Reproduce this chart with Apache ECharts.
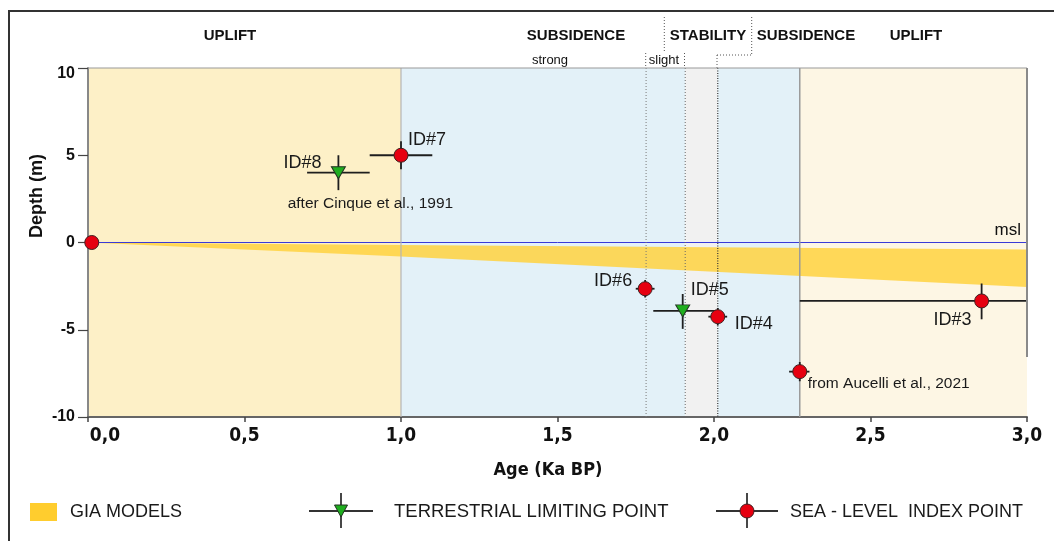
<!DOCTYPE html>
<html><head><meta charset="utf-8">
<script src="https://cdn.jsdelivr.net/npm/echarts@6/dist/echarts.min.js"></script>
<style>html,body{margin:0;padding:0;background:#fff}#c{width:1054px;height:541px}</style>
</head><body><div id="c"></div>
<script>
// ---------- DATA ----------
// Background phase bands (Age, ka BP)
const bandStart = [0.0, 1.0, 1.783, 1.908, 2.012, 2.274];
const bandEnd   = [1.0, 1.783, 1.908, 2.012, 2.274, 3.0];
// Phase boundary lines
const dividerAge = [1.0, 1.783, 1.908, 2.012, 2.274];
// GIA model band
const giaAge    = [0.0, 1.0, 3.0];
const giaTop    = [0.0, -0.15, -0.4];
const giaBottom = [0.0, -0.8, -2.55];
// Mean sea level
const mslDepth = 0;
// Sea-level index points
const slipName    = ['', 'ID#7', 'ID#6', 'ID#4', '', 'ID#3'];
const slipNote    = ['', '', '', '', 'from Aucelli et al., 2021', ''];
const slipAge     = [0.012, 1.0, 1.78, 2.012, 2.274, 2.855];
const slipDepth   = [0.0, 5.0, -2.65, -4.25, -7.4, -3.35];
const slipAgeLo   = [0.012, 0.90, 1.75, 1.982, 2.24, 2.274];
const slipAgeHi   = [0.012, 1.10, 1.81, 2.042, 2.305, 3.0];
const slipDepthLo = [0.0, 4.2, -3.15, -4.75, -7.95, -4.4];
const slipDepthHi = [0.0, 5.8, -2.15, -3.75, -6.85, -2.35];
// Terrestrial limiting points
const tlpName    = ['ID#8', 'ID#5'];
const tlpNote    = ['after Cinque et al., 1991', ''];
const tlpAge     = [0.80, 1.90];
const tlpDepth   = [4.0, -3.92];
const tlpAgeLo   = [0.70, 1.806];
const tlpAgeHi   = [0.90, 2.01];
const tlpDepthLo = [3.0, -4.95];
const tlpDepthHi = [5.0, -2.95];
// Axis ticks
const xTicks = [0, 0.5, 1.0, 1.5, 2.0, 2.5, 3.0];
const yTicks = [-10, -5, 0, 5, 10];

// ---------- STYLES ----------
const bandColors = ['#fdf0c7', '#e3f1f8', '#e3f1f8', '#f1f1f1', '#e3f1f8', '#fdf6e4'];
const dividerStyles = [
  {stroke:'#b5b5b5', lineWidth:1.2},
  {stroke:'#777', lineWidth:1, lineDash:[1,2]},
  {stroke:'#666', lineWidth:1, lineDash:[1,2]},
  {stroke:'#333', lineWidth:1.2, lineDash:[1,1.5]},
  {stroke:'#9a9a9a', lineWidth:1.5}
];
// label offsets [dx, dy, align]
const slipNameStyle = [null, [7,-15,'left'], [-13,-8,'right'], [17,7,'left'], null, [-10,19,'right']];
const slipNoteStyle = [null, null, null, null, [8,12,'left'], null];
const tlpNameStyle  = [[-17,-10,'right'], [8,-21,'left']];
const tlpNoteStyle  = [[32,31,'center'], null];

const FONT = '"Liberation Sans", Arial, sans-serif';
const NARROW = '"DejaVu Sans Condensed", "Liberation Sans", sans-serif';

// Build label list
const labels = [];
slipAge.forEach((a,i)=>{
  if (slipName[i]) labels.push({v:[a, slipDepth[i]], t:slipName[i], s:slipNameStyle[i], f:18});
  if (slipNote[i]) labels.push({v:[a, slipDepth[i]], t:slipNote[i], s:slipNoteStyle[i], f:15.5});
});
tlpAge.forEach((a,i)=>{
  if (tlpName[i]) labels.push({v:[a, tlpDepth[i]], t:tlpName[i], s:tlpNameStyle[i], f:18});
  if (tlpNote[i]) labels.push({v:[a, tlpDepth[i]], t:tlpNote[i], s:tlpNoteStyle[i], f:15.5});
});

function errRender(params, api){
  const c  = api.coord([api.value(0), api.value(1)]);
  const l  = api.coord([api.value(2), api.value(1)]);
  const r  = api.coord([api.value(3), api.value(1)]);
  const lo = api.coord([api.value(0), api.value(4)]);
  const hi = api.coord([api.value(0), api.value(5)]);
  const st = {stroke:'#1e1e1e', lineWidth:1.8};
  return {type:'group', children:[
    {type:'line', shape:{x1:l[0], y1:c[1], x2:r[0], y2:c[1]}, style:st},
    {type:'line', shape:{x1:c[0], y1:hi[1], x2:c[0], y2:lo[1]}, style:st}
  ]};
}

const chart = echarts.init(document.getElementById('c'), null, {renderer:'canvas'});
const headerText = (x, y, text, opt={}) => ({type:'text', x, y, style:Object.assign({text, fill:'#111', font:'bold 15px '+FONT, textAlign:'center', textVerticalAlign:'middle'}, opt)});
const dline = (x1,y1,x2,y2) => ({type:'line', shape:{x1,y1,x2,y2}, style:{stroke:'#555', lineWidth:1, lineDash:[1,2]}});

chart.setOption({
  animation:false,
  backgroundColor:'#fff',
  grid:{left:88, right:27, top:68, bottom:124, show:false},
  xAxis:{
    type:'value', min:0, max:3, interval:0.5,
    axisLine:{show:true, onZero:false, lineStyle:{color:'#666', width:2}},
    axisTick:{show:true, length:5, lineStyle:{color:'#444', width:1.5}},
    splitLine:{show:false},
    axisLabel:{
      margin:10, color:'#111', fontFamily:NARROW, fontWeight:'bold', fontSize:19,
      formatter:v => { const s = v.toFixed(1).replace('.', ','); return v === 0 ? '{f|'+s+'}' : s; },
      rich:{f:{padding:[0,0,0,34], fontFamily:NARROW, fontWeight:'bold', fontSize:19, color:'#111'}}
    }
  },
  yAxis:{
    type:'value', min:-10, max:10, interval:5,
    axisLine:{show:true, onZero:false, lineStyle:{color:'#888', width:2}},
    axisTick:{show:true, length:10, lineStyle:{color:'#444', width:1.2}},
    splitLine:{show:false},
    axisLabel:{
      margin:13, color:'#111', fontFamily:FONT, fontWeight:'bold', fontSize:16,
      formatter:v => v === 10 ? '{t|10}' : String(v),
      rich:{t:{padding:[12,0,0,0], fontFamily:FONT, fontWeight:'bold', fontSize:16, color:'#111'}}
    }
  },
  series:[
    { // phase backgrounds
      type:'custom', silent:true, z:0, clip:true,
      data: bandStart.map((s,i)=>[s, bandEnd[i]]),
      encode:{x:[0,1]},
      renderItem:(params, api)=>{
        const i = params.dataIndex;
        const p0 = api.coord([api.value(0), 10]);
        const p1 = api.coord([api.value(1), -10]);
        return {type:'rect', shape:{x:p0[0], y:p0[1], width:p1[0]-p0[0], height:p1[1]-p0[1]}, style:{fill:bandColors[i]}};
      }
    },
    { // GIA models band
      type:'custom', silent:true, z:1,
      data:[[0]],
      encode:{x:0},
      renderItem:(params, api)=>{
        const pts = [];
        giaAge.forEach((a,i)=>pts.push(api.coord([a, giaTop[i]])));
        for (let i = giaAge.length-1; i >= 0; i--) pts.push(api.coord([giaAge[i], giaBottom[i]]));
        return {type:'polygon', shape:{points:pts}, style:{fill:'#ffd23f', opacity:0.85}};
      },
      markLine:{
        silent:true, symbol:'none', z:2,
        lineStyle:{color:'#3a3ad8', width:1, type:'solid'},
        label:{show:true, formatter:'msl', position:'insideEndTop', distance:[6,4], color:'#111', fontFamily:FONT, fontSize:17},
        data:[{yAxis:mslDepth}]
      }
    },
    { // phase divider lines
      type:'custom', silent:true, z:2,
      data: dividerAge.map(a=>[a]),
      encode:{x:0},
      renderItem:(params, api)=>{
        const i = params.dataIndex;
        const t = api.coord([api.value(0), 10]);
        const b = api.coord([api.value(0), -10]);
        return {type:'line', shape:{x1:t[0], y1:t[1], x2:b[0], y2:b[1]}, style:dividerStyles[i]};
      }
    },
    { // SLIP error bars
      type:'custom', silent:true, z:3,
      data: slipAge.map((a,i)=>[a, slipDepth[i], slipAgeLo[i], slipAgeHi[i], slipDepthLo[i], slipDepthHi[i]]),
      encode:{x:[0,2,3], y:[1,4,5]},
      renderItem: errRender
    },
    { // TLP error bars
      type:'custom', silent:true, z:3,
      data: tlpAge.map((a,i)=>[a, tlpDepth[i], tlpAgeLo[i], tlpAgeHi[i], tlpDepthLo[i], tlpDepthHi[i]]),
      encode:{x:[0,2,3], y:[1,4,5]},
      renderItem: errRender
    },
    {
      name:'SEA - LEVEL  INDEX POINT', type:'scatter', z:4, silent:true,
      symbol:'circle', symbolSize:14,
      itemStyle:{color:'#e60010', borderColor:'#402020', borderWidth:1, opacity:1},
      data: slipAge.map((a,i)=>[a, slipDepth[i]])
    },
    {
      name:'TERRESTRIAL LIMITING POINT', type:'scatter', z:4, silent:true,
      symbol:'triangle', symbolRotate:180, symbolSize:[14,12],
      itemStyle:{color:'#1fae1f', borderColor:'#223322', borderWidth:1, opacity:1},
      data: tlpAge.map((a,i)=>[a, tlpDepth[i]])
    },
    { // point labels
      type:'custom', silent:true, z:5, clip:false,
      data: labels.map(l=>l.v),
      encode:{x:0, y:1},
      renderItem:(params, api)=>{
        const L = labels[params.dataIndex];
        const p = api.coord([api.value(0), api.value(1)]);
        return {type:'text', x:p[0]+L.s[0], y:p[1]+L.s[1],
          style:{text:L.t, fill:'#1a1a1a', font:L.f+'px '+FONT, textAlign:L.s[2], textVerticalAlign:'middle'}};
      }
    }
  ],
  graphic:[
    // outer frame
    {type:'rect', z:100, shape:{x:9, y:11, width:1100, height:600}, style:{fill:'none', stroke:'#333', lineWidth:2}},
    // plot top & right border
    {type:'line', z:50, shape:{x1:88, y1:68, x2:1027, y2:68}, style:{stroke:'#9a9a9a', lineWidth:1.2}},
    {type:'line', z:50, shape:{x1:1027, y1:68, x2:1027, y2:357}, style:{stroke:'#8a8a8a', lineWidth:2}},
    // header labels
    headerText(230, 36, 'UPLIFT'),
    headerText(576, 36, 'SUBSIDENCE'),
    headerText(550, 60, 'strong', {font:'13px '+FONT}),
    headerText(664, 60, 'slight', {font:'13px '+FONT}),
    headerText(708, 36, 'STABILITY'),
    headerText(806, 36, 'SUBSIDENCE'),
    headerText(916, 36, 'UPLIFT'),
    dline(645.7, 53, 645.7, 68),
    dline(684.5, 53, 684.5, 68),
    dline(664.3, 17, 664.3, 51),
    dline(751.7, 17, 751.7, 55),
    dline(717, 55, 751.7, 55),
    dline(717, 55, 717, 68),
    // phase labels
    headerText(230, 89, '5TH PHASE', {z:60}),
    headerText(514, 89, '4TH PHASE'),
    headerText(911, 89, '1ST PHASE'),
    {type:'text', x:665, y:122, rotation:Math.PI/2, style:{text:'3RD PHASE', fill:'#111', font:'bold 15px '+FONT, textAlign:'center', textVerticalAlign:'middle'}},
    {type:'text', x:699, y:122, rotation:Math.PI/2, style:{text:'2ND PHASE', fill:'#111', font:'bold 15px '+FONT, textAlign:'center', textVerticalAlign:'middle'}},
    // axis titles
    {type:'text', x:37, y:196, rotation:Math.PI/2, style:{text:'Depth (m)', fill:'#111', font:'bold 18px '+FONT, textAlign:'center', textVerticalAlign:'middle'}},
    {type:'text', x:548, y:470, style:{text:'Age (Ka BP)', fill:'#111', font:'bold 18px '+NARROW, textAlign:'center', textVerticalAlign:'middle'}},
    // legend
    {type:'rect', shape:{x:30, y:503, width:27, height:18}, style:{fill:'#ffcd2e'}},
    {type:'text', x:70, y:512, style:{text:'GIA MODELS', fill:'#1a1a1a', font:'18px '+FONT, textVerticalAlign:'middle'}},
    {type:'line', shape:{x1:309, y1:511, x2:373, y2:511}, style:{stroke:'#333', lineWidth:1.8}},
    {type:'line', shape:{x1:341, y1:493, x2:341, y2:528}, style:{stroke:'#333', lineWidth:1.8}},
    {type:'polygon', shape:{points:[[334.5,505],[347.5,505],[341,517]]}, style:{fill:'#1fae1f', stroke:'#223322', lineWidth:1}},
    {type:'text', x:394, y:512, style:{text:'TERRESTRIAL LIMITING POINT', fill:'#1a1a1a', font:'18.5px '+FONT, textVerticalAlign:'middle'}},
    {type:'line', shape:{x1:716, y1:511, x2:778, y2:511}, style:{stroke:'#333', lineWidth:1.8}},
    {type:'line', shape:{x1:747, y1:493, x2:747, y2:528}, style:{stroke:'#333', lineWidth:1.8}},
    {type:'circle', shape:{cx:747, cy:511, r:7}, style:{fill:'#e60010', stroke:'#402020', lineWidth:1}},
    {type:'text', x:790, y:512, style:{text:'SEA - LEVEL  INDEX POINT', fill:'#1a1a1a', font:'18px '+FONT, textVerticalAlign:'middle'}}
  ]
});
</script>
</body></html>
